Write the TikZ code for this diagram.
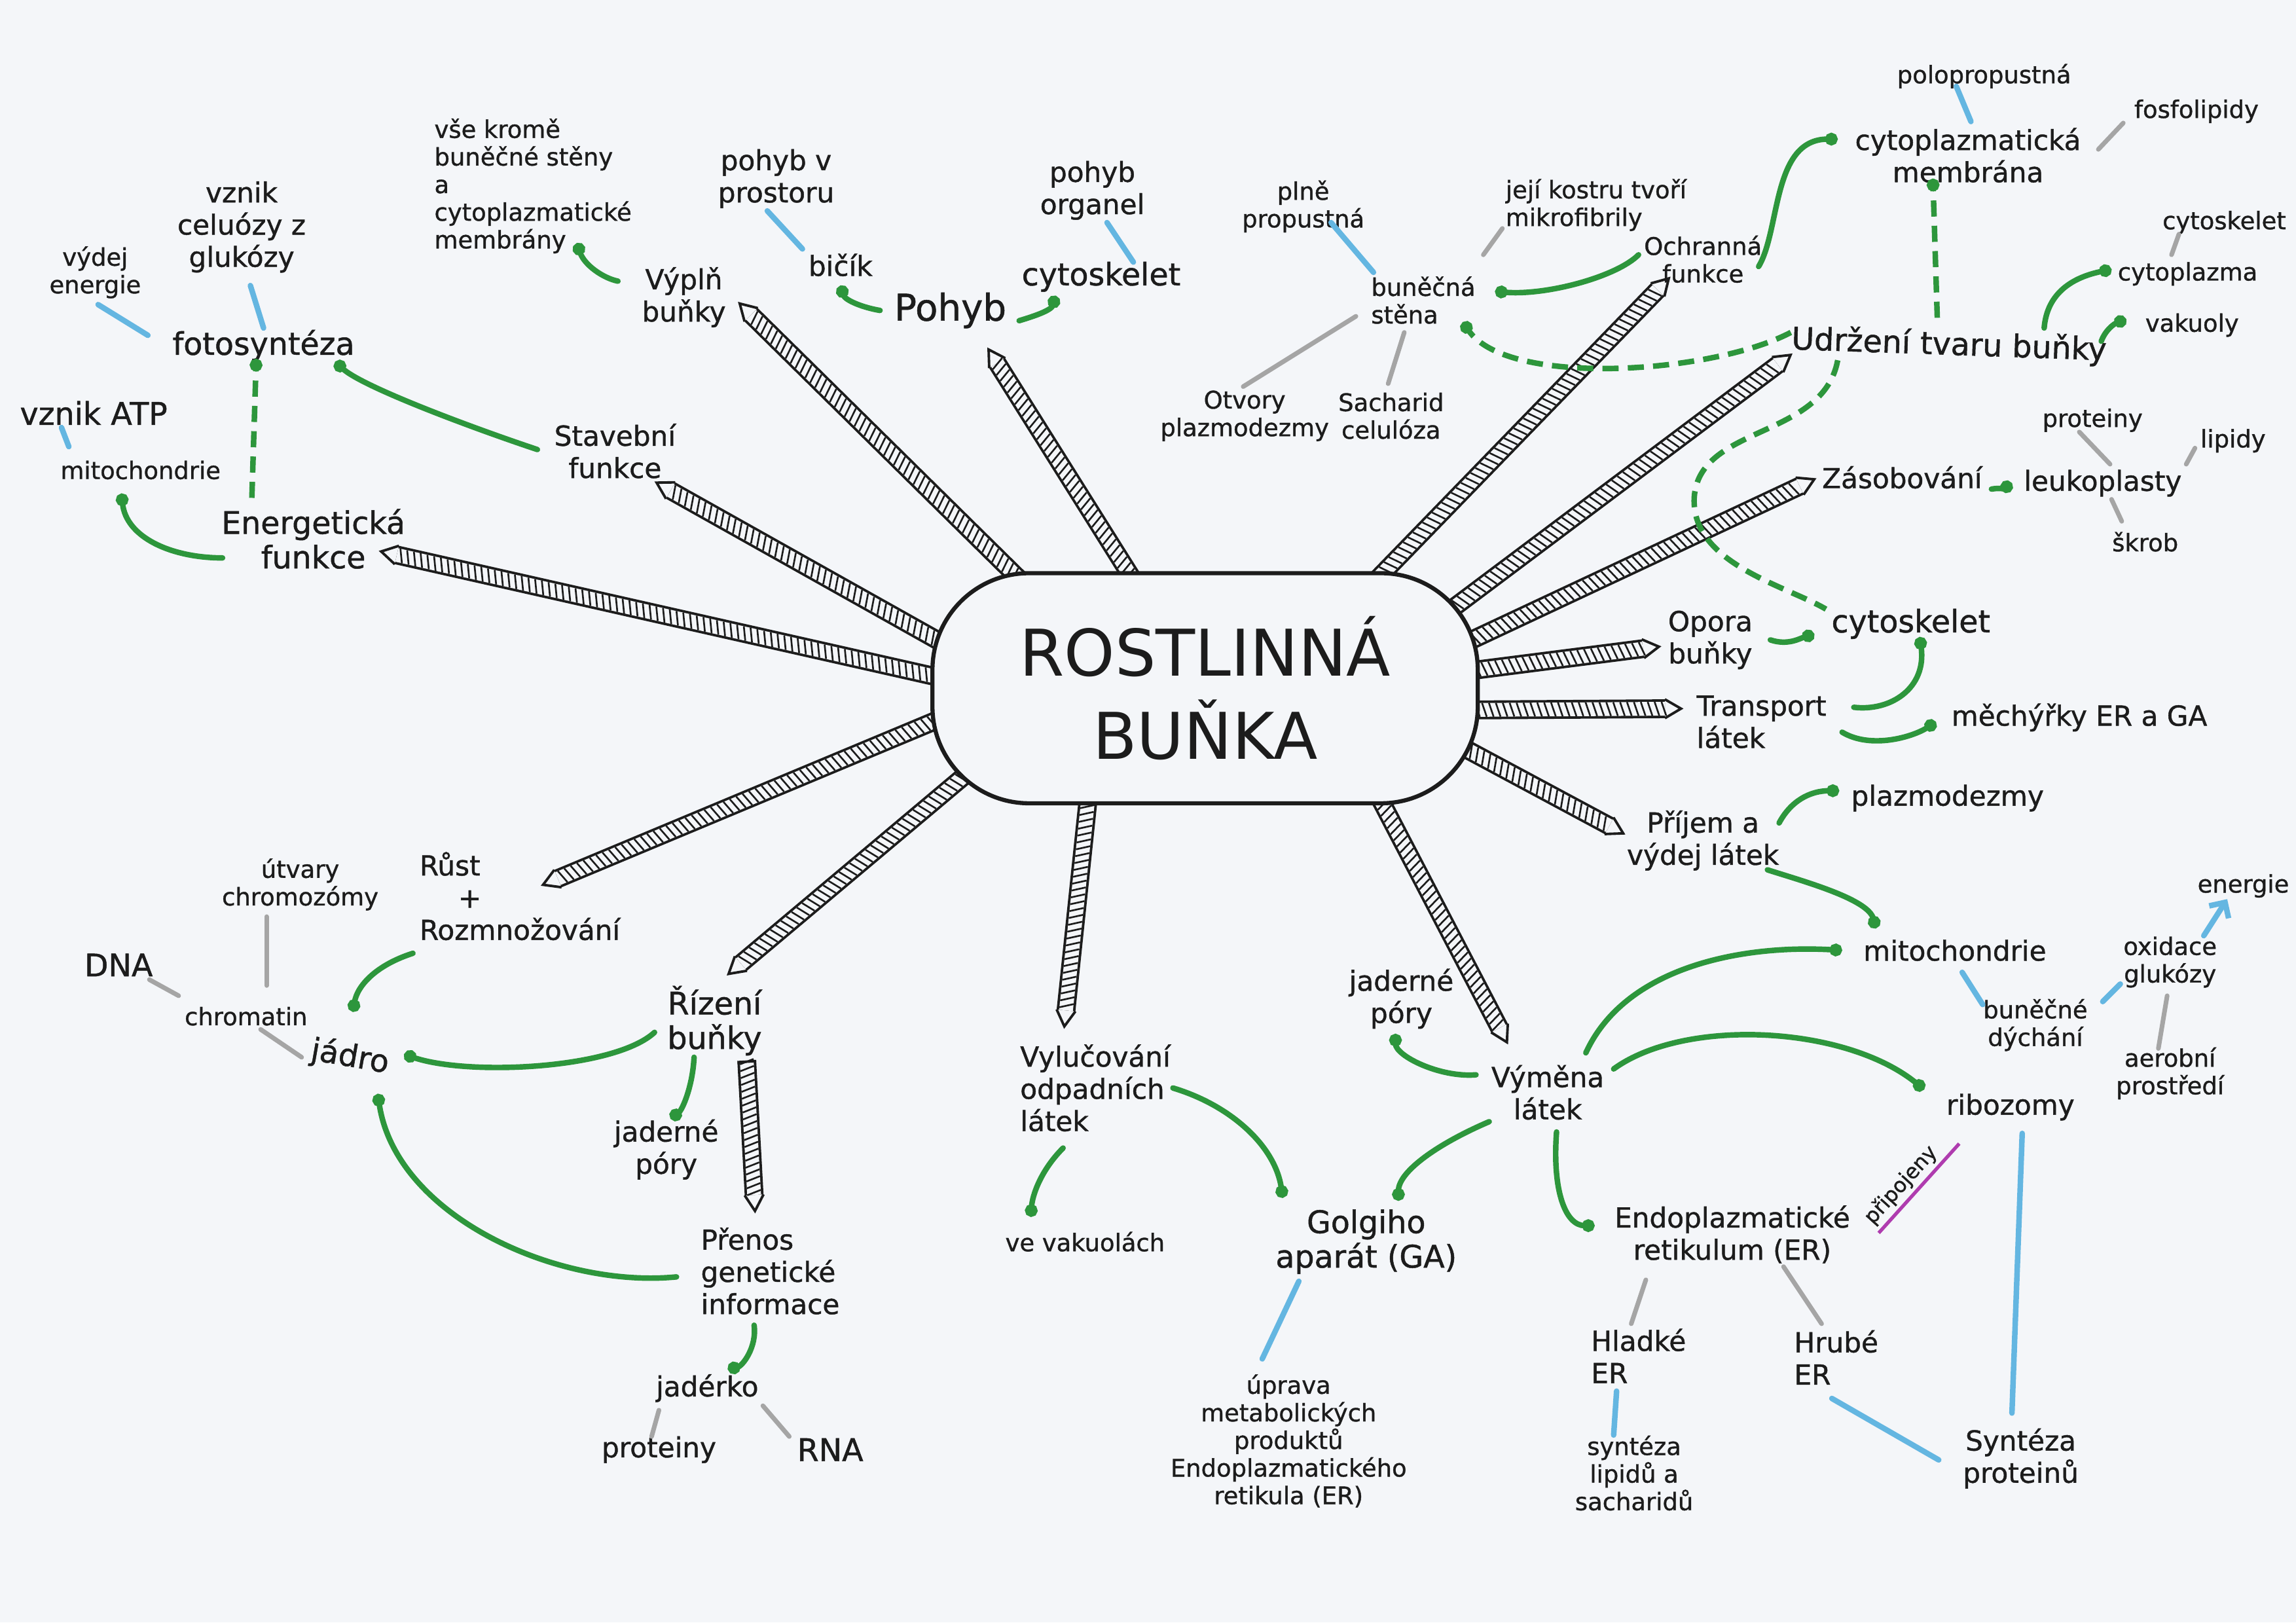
\documentclass[tikz,border=0pt]{standalone}
\usepackage{fontspec}
\setmainfont{DejaVu Sans}[FakeBold=1]
\newfontfamily\titlefont{DejaVu Sans}
\usetikzlibrary{arrows.meta, calc, decorations.markings}
\definecolor{paper}{RGB}{244,246,249}
\definecolor{ink}{RGB}{28,28,28}
\definecolor{leafgreen}{RGB}{45,150,60}
\definecolor{skyblue}{RGB}{100,182,225}
\definecolor{pencil}{RGB}{165,165,165}
\definecolor{lilac}{RGB}{175,60,175}

\begin{document}
\begin{tikzpicture}[x=0.22366mm, y=-0.22366mm,
  sm/.style={font=\fontsize{10.5}{12}\selectfont, text=ink, align=center, inner sep=1pt},
  md/.style={font=\fontsize{12}{14}\selectfont, text=ink, align=center, inner sep=1pt},
  lg/.style={font=\fontsize{13.5}{15}\selectfont, text=ink, align=center, inner sep=1pt},
  xl/.style={font=\fontsize{16}{18}\selectfont, text=ink, inner sep=1pt},
  gn/.style={draw=leafgreen, line width=2.4pt, line cap=round},
  gnd/.style={gn, -{Circle[length=5.5pt]}},
  gdash/.style={gn, line cap=butt, dash pattern=on 7pt off 4pt},
  bl/.style={draw=skyblue, line width=2.4pt, line cap=round},
  gy/.style={draw=pencil, line width=2pt, line cap=round},
  spoke/.style={draw=ink, line width=1.1pt, double=paper, double distance=6pt,
    postaction={decorate, decoration={markings,
      mark=between positions 0 and 1 step 3pt with {\draw[ink, line width=0.75pt] (-1pt,3pt) -- (1pt,-3pt);},
      mark=at position 0 with {\draw[ink, line width=1.1pt] (0pt,-4.1pt) -- (0pt,4.1pt);},
      mark=at position 1 with {\draw[ink, line width=1.1pt, line join=miter] (0pt,-4.1pt) -- (7pt,0pt) -- (0pt,4.1pt);}}}}
]
\useasboundingbox[fill=paper] (0,0) rectangle (1568,1108);

% spokes
\coordinate (hEnerg) at (674,470);  \coordinate (tEnerg) at (271,379);
\coordinate (hStav) at (670,454);   \coordinate (tStav) at (458,335);
\coordinate (hVypln) at (720,419);  \coordinate (tVypln) at (513,215);
\coordinate (hPohyb) at (784,412);  \coordinate (tPohyb) at (681,248);
\coordinate (hOchr) at (907,430);   \coordinate (tOchr) at (1132,198);
\coordinate (hUdrz) at (954,444);   \coordinate (tUdrz) at (1214,249);
\coordinate (hZasob) at (969,454);  \coordinate (tZasob) at (1229,332);
\coordinate (hOpora) at (981,461);  \coordinate (tOpora) at (1122,443);
\coordinate (hTransp) at (976,485); \coordinate (tTransp) at (1137,484);
\coordinate (hPrijem) at (963,491); \coordinate (tPrijem) at (1099,564);
\coordinate (hVymena) at (927,516); \coordinate (tVymena) at (1024,702);
\coordinate (hVylu) at (746,518);   \coordinate (tVylu) at (728,690);
\coordinate (hRizeni) at (700,495); \coordinate (tRizeni) at (506,658);
\coordinate (hRust) at (680,475);   \coordinate (tRust) at (381,600);
\coordinate (hPrenos) at (510,725); \coordinate (tPrenos) at (515,816);
\draw[spoke] (hEnerg) -- (tEnerg);   \draw[spoke] (hStav) -- (tStav);
\draw[spoke] (hVypln) -- (tVypln);   \draw[spoke] (hPohyb) -- (tPohyb);
\draw[spoke] (hOchr) -- (tOchr);     \draw[spoke] (hUdrz) -- (tUdrz);
\draw[spoke] (hZasob) -- (tZasob);   \draw[spoke] (hOpora) -- (tOpora);
\draw[spoke] (hTransp) -- (tTransp); \draw[spoke] (hPrijem) -- (tPrijem);
\draw[spoke] (hVymena) -- (tVymena); \draw[spoke] (hVylu) -- (tVylu);
\draw[spoke] (hRizeni) -- (tRizeni); \draw[spoke] (hRust) -- (tRust);
\draw[spoke] (hPrenos) -- (tPrenos);

\node[draw=ink, line width=1.8pt, fill=paper, rounded corners=42pt, minimum width=237pt,
  minimum height=100pt, align=center, text=ink, font=\titlefont\fontsize{28}{36}\selectfont] (cell) at (823,470) {ROSTLINNÁ\\BUŇKA};

% left and top
\node[sm] (vydej) at (65,186) {výdej\\energie};
\node[md] (celu) at (165,155) {vznik\\celuózy z\\glukózy};
\node[lg] (foto) at (180,236) {fotosyntéza};
\node[lg] (atp) at (64,282) {vznik ATP};
\node[sm] (mitoL) at (96,321) {mitochondrie};
\node[lg] (energ) at (214,368) {Energetická\\funkce};
\node[md] (stav) at (420,308) {Stavební\\funkce};
\node[sm, align=left] (vse) at (364,127) {vše kromě\\buněčné stěny\\a\\cytoplazmatické\\membrány};
\node[md] (vypln) at (467,203) {Výplň\\buňky};
\node[md] (prost) at (530,122) {pohyb v\\prostoru};
\node[md] (bicik) at (574,181) {bičík};
\node[xl] (pohyb) at (649,212) {Pohyb};
\node[md] (organ) at (746,130) {pohyb\\organel};
\node[lg] (cytoP) at (752,189) {cytoskelet};

\node[sm] (plne) at (890,141) {plně\\propustná};
\node[sm, align=left] (kostra) at (1090,140) {její kostru tvoří\\mikrofibrily};
\node[sm] (ochr) at (1163,177) {Ochranná\\funkce};
\node[sm, align=left] (bstena) at (972,205) {buněčná\\stěna};
\node[sm] (otvory) at (850,284) {Otvory\\plazmodezmy};
\node[sm] (sach) at (950,284) {Sacharid\\celulóza};
\node[sm] (polop) at (1355,52) {polopropustná};
\node[sm] (fosfo) at (1500,76) {fosfolipidy};
\node[md] (cmemb) at (1344,106) {cytoplazmatická\\membrána};
\node[sm] (cytoR) at (1519,152) {cytoskelet};
\node[sm] (cplazma) at (1494,187) {cytoplazma};
\node[sm] (vakuoly) at (1497,222) {vakuoly};
\node[lg, rotate=-2] (udrz) at (1331,236) {Udržení tvaru buňky};
\node[md] (zasob) at (1299,326) {Zásobování};
\node[md] (leuko) at (1436,330) {leukoplasty};
\node[sm] (protR) at (1429,287) {proteiny};
\node[sm] (lipidy) at (1525,301) {lipidy};
\node[sm] (skrob) at (1465,370) {škrob};

% right
\node[md] (opora) at (1168,437) {Opora\\buňky};
\node[lg] (cytoO) at (1305,426) {cytoskelet};
\node[md, align=left] (transp) at (1203,493) {Transport\\látek};
\node[md] (mech) at (1420,490) {měchýřky ER a GA};
\node[md] (plazmo) at (1330,545) {plazmodezmy};
\node[md] (prijem) at (1163,574) {Příjem a\\výdej látek};

\node[md] (mitoR) at (1335,649) {mitochondrie};
\node[sm] (energie) at (1532,605) {energie};
\node[sm] (oxid) at (1482,657) {oxidace\\glukózy};
\node[sm] (dych) at (1390,700) {buněčné\\dýchání};
\node[sm] (aerob) at (1482,733) {aerobní\\prostředí};
\node[md] (ribo) at (1373,756) {ribozomy};
\node[md] (vymena) at (1057,746) {Výměna\\látek};
\node[md] (endo) at (1183,843) {Endoplazmatické\\retikulum (ER)};
\node[md, align=left] (hladke) at (1119,926) {Hladké\\ER};
\node[md, align=left] (hrube) at (1254,927) {Hrubé\\ER};
\node[sm] (synlip) at (1116,1006) {syntéza\\lipidů a\\sacharidů};
\node[md] (synprot) at (1380,996) {Syntéza\\proteinů};
\node[md] (jadR) at (957,682) {jaderné\\póry};
\node[lg] (golgi) at (933,848) {Golgiho\\aparát (GA)};
\node[md, align=left] (vylu) at (748,743) {Vylučování\\odpadních\\látek};
\node[sm] (vakuol) at (741,848) {ve vakuolách};
\node[sm] (uprava) at (880,984) {úprava\\metabolických\\produktů\\Endoplazmatického\\retikula (ER)};

% bottom left
\node[md, align=left] (rust) at (355,612) {Růst\\\hspace*{1.4em}+\\Rozmnožování};
\node[sm] (utvary) at (205,604) {útvary\\chromozómy};
\node[lg] (dna) at (81,659) {DNA};
\node[sm] (chrom) at (168,694) {chromatin};
\node[lg, rotate=-10] (jadro) at (239,722) {jádro};
\node[lg] (rizeni) at (488,697) {Řízení\\buňky};
\node[md] (jadL) at (455,785) {jaderné\\póry};
\node[md, align=left] (prenos) at (526,868) {Přenos\\genetické\\informace};
\node[md] (jaderko) at (483,948) {jadérko};
\node[md] (protL) at (450,990) {proteiny};
\node[lg] (rna) at (567,990) {RNA};

% green links
\draw[gnd] ($(stav)+(-53,-1)$) .. controls +(-45,-15) and +(18,17) .. ($(foto)+(49,11)$);
\draw[gdash, -{Circle[length=5.5pt]}] ($(energ)+(-42,-28)$) -- ($(foto)+(-5,9)$);
\draw[gnd] ($(energ)+(-62,13)$) .. controls +(-35,0) and +(3,30) .. ($(mitoL)+(-13,16)$);
\draw[gnd] ($(vypln)+(-45,-11)$) .. controls +(-10,-2) and +(5,15) .. ($(vse)+(30,39)$);
\draw[gnd] ($(pohyb)+(-48,0)$) .. controls +(-12,-2) and +(3,10) .. ($(bicik)+(0,14)$);
\draw[gnd] ($(pohyb)+(47,7)$) .. controls +(10,-3) and +(-3,10) .. ($(cytoP)+(-31,13)$);
\draw[gnd] ($(ochr)+(-44,-3)$) .. controls +(-15,15) and +(35,3) .. ($(bstena)+(49,-6)$);
\draw[gnd] ($(ochr)+(38,5)$) .. controls +(15,-25) and +(-45,0) .. ($(cmemb)+(-89,-11)$);
\draw[gdash, -{Circle[length=5.5pt]}] ($(udrz)+(-8,-19)$) -- ($(cmemb)+(-24,16)$);
\draw[gdash, -{Circle[length=5.5pt]}] ($(udrz)+(-108,-9)$) .. controls +(-53,28) and +(31,45) .. ($(bstena)+(27,15)$);
\draw[gdash] ($(udrz)+(-76,10)$) .. controls +(-10,54) and +(3,-50) .. ($(udrz)+(-174,104)$)
  .. controls +(-2,45) and +(-27,-16) .. ($(cytoO)+(-58,-10)$);
\draw[gnd] ($(udrz)+(65,-12)$) .. controls +(2,-25) and +(-25,5) .. ($(cplazma)+(-52,-3)$);
\draw[gnd] ($(udrz)+(104,-3)$) .. controls +(3,-8) and +(-8,3) .. ($(vakuoly)+(-45,-4)$);
\draw[gnd] ($(zasob)+(61,8)$) .. controls +(6,-1) and +(-6,4) .. ($(leuko)+(-62,0)$);
\draw[gnd] ($(opora)+(41,0)$) .. controls +(12,4) and +(-10,3) .. ($(cytoO)+(-66,7)$);
\draw[gnd] ($(transp)+(63,-10)$) .. controls +(25,3) and +(5,35) .. ($(cytoO)+(6,9)$);
\draw[gnd] ($(transp)+(55,7)$) .. controls +(20,12) and +(-15,10) .. ($(mech)+(-98,3)$);
\draw[gnd] ($(prijem)+(52,-12)$) .. controls +(8,-15) and +(-20,0) .. ($(plazmo)+(-74,-5)$);
\draw[gnd] ($(prijem)+(44,20)$) .. controls +(25,8) and +(-5,-20) .. ($(mitoR)+(-54,-15)$);
\draw[gnd] ($(vymena)+(26,-27)$) .. controls +(27,-59) and +(-68,-4) .. ($(mitoR)+(-77,0)$);
\draw[gnd] ($(vymena)+(45,-16)$) .. controls +(48,-35) and +(-54,-44) .. ($(ribo)+(-59,-12)$);
\draw[gnd] ($(vymena)+(6,27)$) .. controls +(-3,40) and +(-20,0) .. ($(endo)+(-94,-6)$);
\draw[gnd] ($(vymena)+(-49,-12)$) .. controls +(-25,2) and +(0,15) .. ($(jadR)+(-4,24)$);
\draw[gnd] ($(vymena)+(-40,20)$) .. controls +(-35,15) and +(0,-20) .. ($(golgi)+(22,-28)$);
\draw[gnd] ($(vylu)+(53,0)$) .. controls +(40,12) and +(-5,-35) .. ($(golgi)+(-57,-30)$);
\draw[gnd] ($(vylu)+(-22,41)$) .. controls +(-15,15) and +(1,-15) .. ($(vakuol)+(-37,-17)$);
\draw[gnd] ($(rust)+(-73,39)$) .. controls +(-25,8) and +(3,-18) .. ($(jadro)+(2,-31)$);
\draw[gnd] ($(rizeni)+(-41,8)$) .. controls +(-27,25) and +(44,15) .. ($(jadro)+(37,-2)$);
\draw[gnd] ($(rizeni)+(-14,25)$) .. controls +(-1,20) and +(8,-6) .. ($(jadL)+(3,-21)$);
\draw[gnd] ($(prenos)+(-64,4)$) .. controls +(-82,8) and +(12,83) .. ($(jadro)+(19,25)$);
\draw[gnd] ($(prenos)+(-11,37)$) .. controls +(2,15) and +(10,-2) .. ($(jaderko)+(14,-13)$);

% blue and grey links
\draw[bl] ($(vydej)+(2,22)$) -- ($(foto)+(-79,-7)$);
\draw[bl] ($(celu)+(6,40)$) -- ($(foto)+(0,-12)$);
\draw[bl] ($(atp)+(-22,10)$) -- ($(mitoL)+(-49,-16)$);
\draw[bl] ($(prost)+(-6,22)$) -- ($(bicik)+(-26,-11)$);
\draw[bl] ($(organ)+(10,22)$) -- ($(cytoP)+(22,-10)$);
\draw[bl] ($(plne)+(19,11)$) -- ($(bstena)+(-34,-19)$);
\draw[gy] ($(kostra)+(-64,16)$) -- ($(bstena)+(41,-31)$);
\draw[gy] ($(bstena)+(-46,11)$) -- ($(otvory)+(-1,-20)$);
\draw[gy] ($(bstena)+(-13,22)$) -- ($(sach)+(-2,-22)$);
\draw[bl] ($(polop)+(-19,7)$) -- ($(cmemb)+(2,-23)$);
\draw[gy] ($(fosfo)+(-50,8)$) -- ($(cmemb)+(89,-4)$);
\draw[gy] ($(cytoR)+(-31,8)$) -- ($(cplazma)+(-11,-13)$);
\draw[gy] ($(protR)+(-9,8)$) -- ($(leuko)+(5,-13)$);
\draw[gy] ($(lipidy)+(-26,5)$) -- ($(leuko)+(57,-13)$);
\draw[gy] ($(leuko)+(6,11)$) -- ($(skrob)+(-16,-14)$);
\draw[bl] ($(golgi)+(-46,27)$) -- ($(uprava)+(-18,-56)$);
\draw[gy] ($(endo)+(-59,31)$) -- ($(hladke)+(-5,-22)$);
\draw[gy] ($(endo)+(35,22)$) -- ($(hrube)+(-10,-23)$);
\draw[bl] ($(hladke)+(-15,24)$) -- ($(synlip)+(-14,-26)$);
\draw[bl] ($(hrube)+(-3,28)$) -- ($(synprot)+(-56,1)$);
\draw[bl] ($(ribo)+(8,18)$) -- ($(synprot)+(-6,-31)$);
\draw[bl] ($(mitoR)+(5,15)$) -- ($(dych)+(-36,-14)$);
\draw[bl] ($(dych)+(46,-16)$) -- ($(oxid)+(-34,15)$);
\draw[bl, -{Straight Barb[length=5pt, width=10pt]}] ($(oxid)+(23,-18)$) -- ($(energie)+(-11,9)$);
\draw[gy] ($(oxid)+(-2,23)$) -- ($(aerob)+(-8,-17)$);
\draw[draw=lilac, line width=1.5pt] ($(endo)+(100,-1)$) -- node[sloped, above, pos=0.42, text=ink,
  font=\fontsize{9}{10}\selectfont, inner sep=1.5pt] (pripoj) {připojeny} ($(ribo)+(-35,25)$);
\draw[gy] ($(utvary)+(-23,22)$) -- ($(chrom)+(14,-21)$);
\draw[gy] ($(dna)+(21,10)$) -- ($(chrom)+(-46,-14)$);
\draw[gy] ($(chrom)+(10,9)$) -- ($(jadro)+(-33,0)$);
\draw[gy] ($(jaderko)+(-33,15)$) -- ($(protL)+(-5,-9)$);
\draw[gy] ($(jaderko)+(38,12)$) -- ($(rna)+(-28,-9)$);
\end{tikzpicture}
\end{document}
